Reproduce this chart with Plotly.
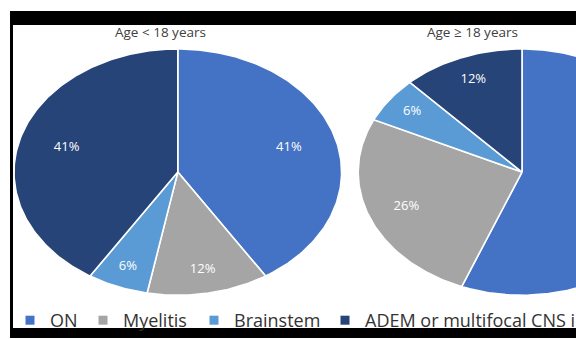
import numpy as np
import plotly.graph_objects as go

# ---- data ----
categories = ["ON", "Myelitis", "Brainstem", "ADEM or multifocal CNS involvement"]
values_under18 = [41, 12, 6, 41]
values_over18 = [56, 26, 6, 12]
pie_titles = ["Age < 18 years", "Age \u2265 18 years"]

# ---- styling / layout constants ----
W, H = 576, 339
colors = ["#4472C4", "#A5A5A5", "#5B9BD5", "#264478"]
centers = [(177.8, 172.6), (522.0, 172.6)]
RX, RY = 163.8, 123.5
title_pos = [(160.5, 32.5), (472.5, 32.5)]
legend_widths = [28, 66, 86, 205]
FONT = "Open Sans"

fig = go.Figure()


def wedge(cx, cy, a0, a1):
    t = np.linspace(a0, a1, max(int(abs(a1 - a0) * 180 / np.pi) + 2, 3))
    xs = np.concatenate([[cx], cx + RX * np.sin(t), [cx]])
    ys = np.concatenate([[cy], cy - RY * np.cos(t), [cy]])
    return xs, ys


def label_radius(share_pct):
    # "best fit" style: small slices get their label further out
    return 0.85 - 0.0035 * share_pct


for values, (cx, cy) in zip([values_under18, values_over18], centers):
    total = float(sum(values))
    start = 0.0
    lx, ly, lt = [], [], []
    for cat, v, col in zip(categories, values, colors):
        a0 = start
        a1 = start + 2 * np.pi * v / total
        xs, ys = wedge(cx, cy, a0, a1)
        fig.add_trace(go.Scatter(
            x=xs, y=ys, mode="lines", fill="toself", fillcolor=col,
            line=dict(color="white", width=1.6), showlegend=False,
            hoverinfo="text", text=f"{cat}: {v}%", name=cat,
        ))
        mid = (a0 + a1) / 2
        r = label_radius(100.0 * v / total)
        lx.append(cx + r * RX * np.sin(mid))
        ly.append(cy - r * RY * np.cos(mid))
        lt.append(f"{v}%")
        start = a1
    fig.add_trace(go.Scatter(
        x=lx, y=ly, mode="text", text=lt,
        textfont=dict(color="white", size=13, family=FONT),
        showlegend=False, hoverinfo="skip",
    ))

# legend entries
for cat, col, lw in zip(categories, colors, legend_widths):
    fig.add_trace(go.Scatter(
        x=[None], y=[None], mode="markers", name=cat,
        marker=dict(symbol="square", size=9, color=col),
        legendwidth=lw, showlegend=True,
    ))

# titles
for txt, (tx, ty) in zip(pie_titles, title_pos):
    fig.add_annotation(x=tx, y=ty, xref="x", yref="y", text=txt, showarrow=False,
                       font=dict(size=13.5, color="#404040", family=FONT),
                       xanchor="center", yanchor="middle")

# black frame of the screenshot
frame = [
    (10, 11, W, 25),     # top bar
    (10, 11, 13, 330),   # left line
    (10, 329, W, H),     # bottom bar
]
for x0, y0, x1, y1 in frame:
    fig.add_shape(type="rect", xref="x", yref="y", x0=x0, y0=y0, x1=x1, y1=y1,
                  fillcolor="black", line=dict(width=0), layer="above")

fig.update_layout(
    width=W, height=H, margin=dict(l=0, r=0, t=0, b=0),
    paper_bgcolor="white", plot_bgcolor="white",
    xaxis=dict(range=[0, W], visible=False, fixedrange=True),
    yaxis=dict(range=[H, 0], visible=False, fixedrange=True),
    showlegend=True,
    legend=dict(orientation="h", x=10 / W, xanchor="left", y=1 - 321 / H, yanchor="middle",
                font=dict(size=18, color="#333333", family=FONT),
                bgcolor="rgba(0,0,0,0)", borderwidth=0, itemwidth=30,
                traceorder="normal"),
    font=dict(family=FONT),
)

fig.write_html("out.html")
